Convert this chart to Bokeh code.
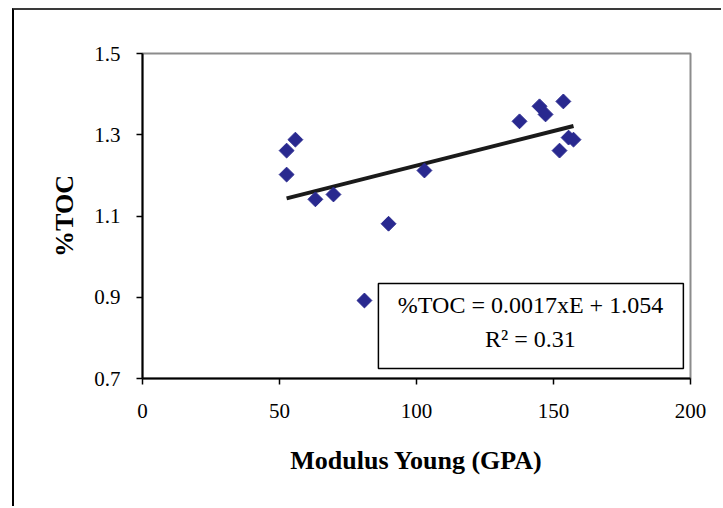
from bokeh.plotting import figure
from bokeh.models import Range1d, FixedTicker, BoxAnnotation, Label
from bokeh.embed import file_html
from bokeh.resources import INLINE

# Young's modulus (GPa) against total organic carbon (%)
modulus_gpa = [52.6, 55.8, 52.6, 63.1, 69.7, 89.8, 81.0, 102.9,
               137.6, 144.9, 147.1, 153.6, 152.2, 155.5, 157.3]
toc_pct = [1.261, 1.288, 1.202, 1.141, 1.153, 1.081, 0.892, 1.212,
           1.333, 1.370, 1.350, 1.382, 1.261, 1.293, 1.288]

# linear fit reported on the chart
fit_slope = 0.0017
fit_intercept = 1.054
fit_r2 = 0.31

x_ticks = [0, 50, 100, 150, 200]
y_ticks = [0.7, 0.9, 1.1, 1.3, 1.5]

SERIF = "Liberation Serif"

# the chart area sits inside a bordered box offset from the page corner
p = figure(width=709, height=498, output_backend="svg", toolbar_location=None,
           x_range=Range1d(0, 200), y_range=Range1d(0.7, 1.5),
           min_border_left=128, min_border_right=33,
           min_border_top=43, min_border_bottom=130)
p.margin = (8, 0, 0, 12)
p.styles = {"border-left": "2px solid black", "border-top": "2px solid #3a3a3a"}

p.background_fill_color = "white"
p.border_fill_color = "white"
p.outline_line_color = "#8c8c8c"
p.outline_line_width = 2
p.xgrid.visible = False
p.ygrid.visible = False

for ax in (p.xaxis[0], p.yaxis[0]):
    ax.axis_line_color = "black"
    ax.axis_line_width = 2
    ax.major_tick_line_color = "black"
    ax.major_tick_line_width = 1.5
    ax.major_tick_out = 6
    ax.major_tick_in = 0
    ax.minor_tick_line_color = None
    ax.major_label_text_font = SERIF
    ax.major_label_text_font_size = "21px"
    ax.major_label_text_color = "black"
    ax.axis_label_text_font = SERIF
    ax.axis_label_text_font_style = "bold"
    ax.axis_label_text_font_size = "26px"
    ax.axis_label_text_color = "black"

p.xaxis.ticker = FixedTicker(ticks=x_ticks)
p.yaxis.ticker = FixedTicker(ticks=y_ticks)
p.xaxis.major_label_overrides = {t: str(t) for t in x_ticks}
p.yaxis.major_label_overrides = {t: f"{t:.1f}" for t in y_ticks}
p.xaxis.major_label_standoff = 19
p.yaxis.major_label_standoff = 16
p.xaxis.axis_label = "Modulus Young (GPA)"
p.yaxis.axis_label = "%TOC"
p.xaxis.axis_label_standoff = 25
p.yaxis.axis_label_standoff = 12

# trend line over the sampled range
x0, x1 = min(modulus_gpa), max(modulus_gpa)
p.line([x0, x1], [fit_slope * x0 + fit_intercept, fit_slope * x1 + fit_intercept],
       line_color="#1a1a1a", line_width=4)

# data points as diamonds
p.scatter(modulus_gpa, toc_pct, marker="square", angle=0.785398, size=10.5,
          fill_color="#29298f", line_color="#29298f")

# equation box
p.add_layout(BoxAnnotation(left=86.1, right=197.4, bottom=0.7246, top=0.934,
                           fill_color="white", fill_alpha=1.0,
                           line_color="black", line_alpha=1.0, line_width=1.5))
p.add_layout(Label(x=141.6, y=0.880, text=f"%TOC = {fit_slope}xE + {fit_intercept}",
                   text_font=SERIF, text_font_size="24px", text_color="black",
                   text_align="center", text_baseline="middle"))
p.add_layout(Label(x=141.6, y=0.798, text=f"R\u00b2 = {fit_r2}",
                   text_font=SERIF, text_font_size="24px", text_color="black",
                   text_align="center", text_baseline="middle"))

open("out.html", "w").write(file_html(p, INLINE))
